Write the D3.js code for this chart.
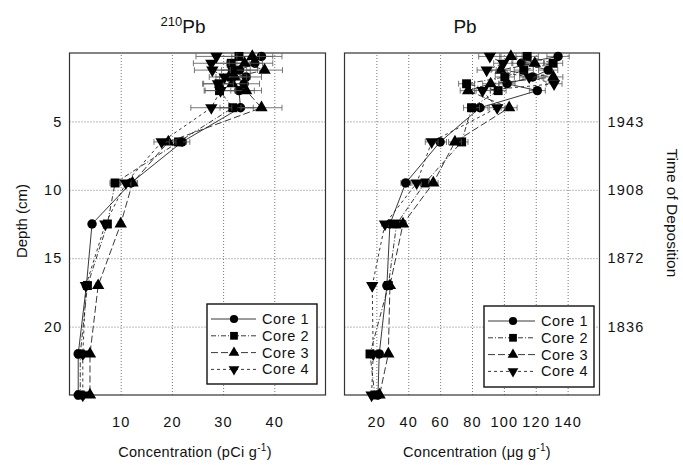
<!DOCTYPE html>
<html>
<head>
<meta charset="utf-8">
<script src="https://cdn.jsdelivr.net/npm/d3@7"></script>
<style>
  body { margin: 0; background: #fff; }
  text { font-family: "Liberation Sans", Arial, sans-serif; fill: #111; }
</style>
</head>
<body>
<script>
const width = 683;
const height = 465;
const top0 = 53, bottom0 = 395;

// depth of each slice (cm)
const depths = [0.25, 0.75, 1.25, 1.75, 2.25, 2.75, 4, 6.5, 9.5, 12.5, 17, 22, 25];

// 210Pb activity, pCi g-1
const pb210Core1 = [37.5, 36.2, 33.2, 34.5, 34.1, 33.1, 33.4, 22.0, 12.0, 4.4, 3.3, 1.7, 1.7];
const pb210Core2 = [33.1, 31.6, 31.8, 31.6, 29.2, 29.3, 31.9, 21.3, 8.9, 7.4, 3.5, 2.1, 2.1];
const pb210Core3 = [35.7, 34.2, 38.1, 32.3, 31.8, 34.5, 37.5, 19.3, 12.3, 10.0, 5.6, 4.0, 4.0];
const pb210Core4 = [28.7, 27.7, 27.9, 30.3, 29.0, 29.5, 27.7, 18.0, 11.0, 7.0, 3.2, 2.6, 2.6];
const pb210Err = [4, 3.5, 3.5, 3, 3, 3, 4, 1.5, 1, 0.5, 0.5, 0.3, 0.3];

// stable Pb, ug g-1
const pbCore1 = [134, 111, 127.8, 118, 102, 121, 85, 60, 38.4, 28.5, 26.6, 21.8, 21];
const pbCore2 = [114.6, 130.9, 112.5, 100.6, 76.6, 96.4, 79.7, 73.5, 50.5, 32.7, 27.5, 16, 19];
const pbCore3 = [104.4, 119.4, 98, 131, 91.7, 77.6, 103.3, 69.3, 55.7, 36.7, 28.5, 27.5, 22];
const pbCore4 = [91.2, 99.6, 89.2, 115.9, 131.5, 86.6, 95.8, 54.7, 45.3, 25.4, 17.4, 18, 17];
const pbErr = [7, 6, 6, 6, 5, 5, 5, 4, 3, 2, 1.5, 1, 1];

const coreNames = ["Core 1", "Core 2", "Core 3", "Core 4"];
const depthTicks = [5, 10, 15, 20];
const yearLabels = ["1943", "1908", "1872", "1836"];
const pb210Ticks = [10, 20, 30, 40];
const pbTicks = [20, 40, 60, 80, 100, 120, 140];

const symbols = [d3.symbolCircle, d3.symbolSquare, d3.symbolTriangle, d3.symbolTriangle];
const symSize = [70, 80, 66, 66];
const dashes = [null, "5,2,1,2", "7,3", "3,3"];

let svg = null;
let y = null;

function initializeSvg() {
    svg = d3.select("body").append("svg")
        .attr("width", width)
        .attr("height", height);
    y = d3.scaleLinear().domain([0, 25]).range([top0, bottom0]);
}

function drawPanel(opts) {
    const x = d3.scaleLinear().domain(opts.domain).range([opts.left, opts.right]);
    const g = svg.append("g");

    // grid + tick labels
    g.append("g")
        .attr("transform", `translate(0,${bottom0})`)
        .call(d3.axisBottom(x).tickValues(opts.ticks).tickSize(-(bottom0 - top0)).tickPadding(22))
        .call(a => a.select(".domain").remove());
    g.append("g")
        .attr("transform", `translate(${opts.left},0)`)
        .call(d3.axisLeft(y).tickValues(depthTicks).tickSize(-(opts.right - opts.left)).tickPadding(7)
            .tickFormat(opts.yLabels ? d3.format("d") : () => ""))
        .call(a => a.select(".domain").remove());
    g.selectAll(".tick line")
        .attr("stroke", "#777")
        .attr("stroke-width", 1)
        .attr("stroke-dasharray", "1,2");
    g.selectAll(".tick text")
        .attr("font-size", 14.5)
        .attr("letter-spacing", 1.2)
        .attr("font-family", "Liberation Sans, Arial, sans-serif")
        .attr("fill", "#111");

    if (opts.years) {
        g.append("g")
            .attr("transform", `translate(${opts.right},0)`)
            .call(d3.axisRight(y).tickValues(depthTicks).tickSize(0).tickPadding(8)
                .tickFormat((d, i) => opts.years[i]))
            .call(a => a.select(".domain").remove())
            .selectAll("text")
            .attr("font-size", 14.5)
            .attr("letter-spacing", 1.2)
            .attr("font-family", "Liberation Sans, Arial, sans-serif")
            .attr("fill", "#111");
    }

    // frame
    g.append("rect")
        .attr("x", opts.left).attr("y", top0)
        .attr("width", opts.right - opts.left).attr("height", bottom0 - top0)
        .attr("fill", "none").attr("stroke", "#333").attr("stroke-width", 1.2);

    const line = d3.line().x(d => x(d.v)).y(d => y(d.depth));

    opts.cores.forEach((vals, c) => {
        const pts = vals.map((v, i) => ({depth: depths[i], v: v, e: opts.err[i]}));

        g.append("path")
            .datum(pts)
            .attr("d", line)
            .attr("fill", "none")
            .attr("stroke", "#222")
            .attr("stroke-width", 0.9)
            .attr("stroke-dasharray", dashes[c]);

        const eb = g.append("g").selectAll("g").data(pts).join("g");
        eb.append("line")
            .attr("x1", d => x(d.v - d.e)).attr("x2", d => x(d.v + d.e))
            .attr("y1", d => y(d.depth)).attr("y2", d => y(d.depth))
            .attr("stroke", "#555").attr("stroke-width", 0.8);
        eb.append("line")
            .attr("x1", d => x(d.v - d.e)).attr("x2", d => x(d.v - d.e))
            .attr("y1", d => y(d.depth) - 3).attr("y2", d => y(d.depth) + 3)
            .attr("stroke", "#555").attr("stroke-width", 0.8);
        eb.append("line")
            .attr("x1", d => x(d.v + d.e)).attr("x2", d => x(d.v + d.e))
            .attr("y1", d => y(d.depth) - 3).attr("y2", d => y(d.depth) + 3)
            .attr("stroke", "#555").attr("stroke-width", 0.8);

        g.append("g").selectAll("path")
            .data(pts)
            .join("path")
            .attr("d", d3.symbol(symbols[c], symSize[c]))
            .attr("transform", d => `translate(${x(d.v)},${y(d.depth)})` + (c == 3 ? " rotate(180)" : ""))
            .attr("fill", "#000");
    });

    // legend
    const lg = g.append("g").attr("transform", `translate(${opts.legend[0]},${opts.legend[1]})`);
    lg.append("rect")
        .attr("width", opts.legend[2]).attr("height", opts.legend[3])
        .attr("fill", "#fff").attr("stroke", "#111").attr("stroke-width", 1.4);
    const row = lg.selectAll("g.row").data(coreNames).join("g")
        .attr("class", "row")
        .attr("transform", (d, i) => `translate(0,${15 + i * 16.8})`);
    row.append("line")
        .attr("x1", 4).attr("x2", opts.legend[4] + 22)
        .attr("stroke", "#222").attr("stroke-width", 0.9)
        .attr("stroke-dasharray", (d, i) => dashes[i]);
    row.append("path")
        .attr("d", (d, i) => d3.symbol(symbols[i], symSize[i] * 0.75)())
        .attr("transform", (d, i) => `translate(${opts.legend[4]},0)` + (i == 3 ? " rotate(180)" : ""))
        .attr("fill", "#000");
    row.append("text")
        .attr("x", opts.legend[4] + 28)
        .attr("dy", "0.35em")
        .attr("font-size", 14.5)
        .attr("letter-spacing", 0.6)
        .text(d => d);

    // titles
    const tt = svg.append("text")
        .attr("x", opts.titleX).attr("y", 33)
        .attr("text-anchor", "middle")
        .attr("font-size", 19);
    if (opts.sup) tt.append("tspan").attr("font-size", 13).attr("dy", -7).text(opts.sup);
    tt.append("tspan").attr("dy", opts.sup ? 7 : 0).text(opts.title);

    const xt = svg.append("text")
        .attr("x", opts.xTitleX).attr("y", 457)
        .attr("text-anchor", "middle")
        .attr("font-size", 14.5)
        .attr("letter-spacing", 0.3);
    xt.append("tspan").text(opts.unit);
    xt.append("tspan").attr("font-size", 10).attr("dy", -6).text("-1");
    xt.append("tspan").attr("dy", 6).text(")");
}

initializeSvg();

drawPanel({
    domain: [0, 50], left: 69.5, right: 325.5,
    ticks: pb210Ticks, yLabels: true,
    cores: [pb210Core1, pb210Core2, pb210Core3, pb210Core4], err: pb210Err,
    legend: [207, 304, 110, 80, 27],
    title: "Pb", sup: "210", titleX: 183,
    unit: "Concentration (pCi g", xTitleX: 195
});

drawPanel({
    domain: [0, 160], left: 344.5, right: 599.5,
    ticks: pbTicks, yLabels: false, years: yearLabels,
    cores: [pbCore1, pbCore2, pbCore3, pbCore4], err: pbErr,
    legend: [484, 306, 110, 81, 29],
    title: "Pb", titleX: 465,
    unit: "Concentration (\u03bcg g", xTitleX: 477
});

svg.append("text")
    .attr("transform", "translate(27,221) rotate(-90)")
    .attr("text-anchor", "middle")
    .attr("font-size", 15)
    .text("Depth (cm)");

svg.append("text")
    .attr("transform", "translate(667,213) rotate(90)")
    .attr("text-anchor", "middle")
    .attr("font-size", 15.5)
    .text("Time of Deposition");
</script>
</body>
</html>
